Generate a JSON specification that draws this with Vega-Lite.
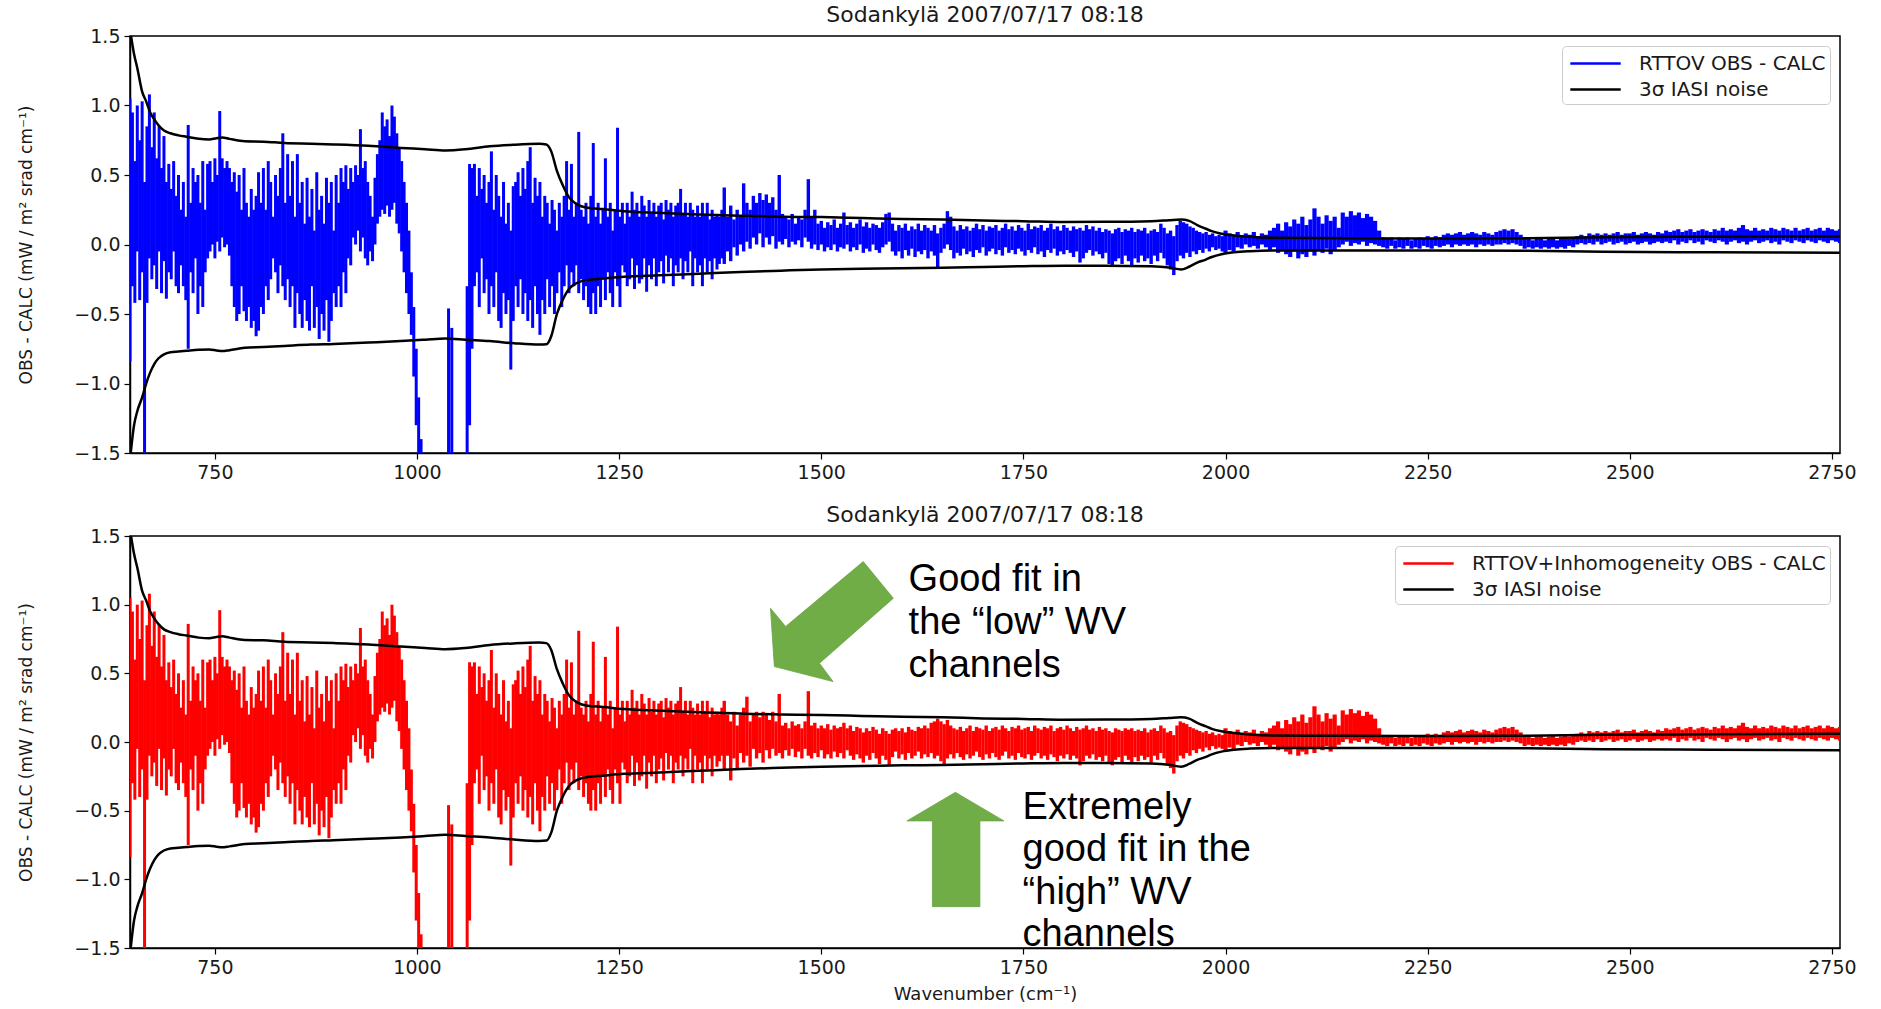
{
"$schema": "https://vega.github.io/schema/vega-lite/v6.json",
"background": "white",
"padding": {"left": 17, "top": 2, "right": 30, "bottom": 5},
"spacing": 19,
"config": {
 "font": "DejaVu Sans",
 "view": {"stroke": "#000000", "strokeWidth": 1.5},
 "axis": {"grid": false, "labelFont": "DejaVu Sans", "labelFontSize": 19, "labelColor": "#1a1a1a", "tickColor": "#000000", "domainColor": "#000000", "tickSize": 6, "tickWidth": 1.2, "domainWidth": 1.5, "labelPadding": 4, "titleFont": "DejaVu Sans", "titleFontWeight": "normal", "titleFontSize": 18, "titleColor": "#1a1a1a", "titlePadding": 8},
 "axisY": {"titleFontSize": 17, "titlePadding": 38},
 "title": {"font": "DejaVu Sans", "fontSize": 22, "fontWeight": "normal", "color": "#1a1a1a", "offset": 0.5, "anchor": "middle"},
 "legend": {"orient": "top-right", "offset": 10, "symbolType": "M-2.1,0L2.1,0", "symbolStrokeWidth": 2.5, "symbolSize": 576, "symbolOffset": 16, "labelFont": "DejaVu Sans", "labelFontSize": 20, "labelColor": "#1a1a1a", "labelLimit": 600, "labelOffset": 30, "strokeColor": "#cccccc", "fillColor": "#ffffff", "padding": 4, "cornerRadius": 4, "rowPadding": 2}
},
"datasets": {
 "A": [
{"w":645,"lo":-0.84,"hi":1.05},{"w":648,"lo":-0.3,"hi":0.95},{"w":651,"lo":-0.42,"hi":0.6},{"w":654,"lo":-0.05,"hi":1.0},{"w":657,"lo":-0.4,"hi":0.75},{"w":660,"lo":-0.2,"hi":1.03},{"w":663,"lo":-1.6,"hi":0.45},{"w":666,"lo":-0.42,"hi":0.85},
{"w":669,"lo":-0.1,"hi":1.08},{"w":672,"lo":-0.25,"hi":0.7},{"w":675,"lo":-0.15,"hi":0.95},{"w":678,"lo":-0.32,"hi":0.62},{"w":681,"lo":-0.05,"hi":0.85},{"w":684,"lo":-0.35,"hi":0.55},{"w":687,"lo":-0.12,"hi":0.78},{"w":690,"lo":-0.39,"hi":0.45},
{"w":693,"lo":-0.2,"hi":0.58},{"w":696,"lo":-0.25,"hi":0.4},{"w":699,"lo":-0.05,"hi":0.6},{"w":702,"lo":-0.3,"hi":0.35},{"w":705,"lo":-0.35,"hi":0.5},{"w":708,"lo":-0.15,"hi":0.25},{"w":711,"lo":-0.3,"hi":0.45},{"w":714,"lo":-0.4,"hi":0.2},
{"w":717,"lo":-0.75,"hi":0.86},{"w":720,"lo":-0.2,"hi":0.3},{"w":723,"lo":-0.35,"hi":0.55},{"w":726,"lo":-0.1,"hi":0.45},{"w":729,"lo":-0.5,"hi":0.5},{"w":732,"lo":-0.3,"hi":0.3},{"w":735,"lo":-0.45,"hi":0.6},{"w":738,"lo":-0.2,"hi":0.25},
{"w":741,"lo":-0.1,"hi":0.58},{"w":744,"lo":-0.05,"hi":0.6},{"w":747,"lo":0.0,"hi":0.45},{"w":750,"lo":-0.1,"hi":0.62},{"w":753,"lo":0.02,"hi":0.5},{"w":756,"lo":-0.05,"hi":0.96},{"w":759,"lo":0.05,"hi":0.62},{"w":762,"lo":-0.02,"hi":0.55},
{"w":765,"lo":0.0,"hi":0.6},{"w":768,"lo":-0.08,"hi":0.55},{"w":771,"lo":-0.3,"hi":0.45},{"w":774,"lo":-0.45,"hi":0.52},{"w":777,"lo":-0.55,"hi":0.38},{"w":780,"lo":-0.5,"hi":0.5},{"w":783,"lo":-0.3,"hi":0.25},{"w":786,"lo":-0.48,"hi":0.55},
{"w":789,"lo":-0.55,"hi":0.3},{"w":792,"lo":-0.45,"hi":0.2},{"w":795,"lo":-0.6,"hi":0.4},{"w":798,"lo":-0.55,"hi":0.25},{"w":801,"lo":-0.66,"hi":0.35},{"w":804,"lo":-0.62,"hi":0.52},{"w":807,"lo":-0.45,"hi":0.3},{"w":810,"lo":-0.5,"hi":0.55},
{"w":813,"lo":-0.3,"hi":0.25},{"w":816,"lo":-0.4,"hi":0.6},{"w":819,"lo":-0.25,"hi":0.45},{"w":822,"lo":-0.1,"hi":0.2},{"w":825,"lo":-0.2,"hi":0.5},{"w":828,"lo":-0.35,"hi":0.35},{"w":831,"lo":-0.15,"hi":0.55},{"w":834,"lo":-0.3,"hi":0.8},
{"w":837,"lo":-0.4,"hi":0.3},{"w":840,"lo":-0.25,"hi":0.65},{"w":843,"lo":-0.45,"hi":0.35},{"w":846,"lo":-0.3,"hi":0.6},{"w":849,"lo":-0.6,"hi":0.2},{"w":852,"lo":-0.35,"hi":0.65},{"w":855,"lo":-0.5,"hi":0.3},{"w":858,"lo":-0.6,"hi":0.45},
{"w":861,"lo":-0.4,"hi":0.15},{"w":864,"lo":-0.55,"hi":0.48},{"w":867,"lo":-0.62,"hi":0.2},{"w":870,"lo":-0.3,"hi":0.4},{"w":873,"lo":-0.6,"hi":0.1},{"w":876,"lo":-0.45,"hi":0.52},{"w":879,"lo":-0.68,"hi":0.25},{"w":882,"lo":-0.5,"hi":0.35},
{"w":885,"lo":-0.62,"hi":0.15},{"w":888,"lo":-0.4,"hi":0.48},{"w":891,"lo":-0.7,"hi":0.3},{"w":894,"lo":-0.55,"hi":0.45},{"w":897,"lo":-0.35,"hi":0.1},{"w":900,"lo":-0.45,"hi":0.5},{"w":903,"lo":-0.3,"hi":0.3},{"w":906,"lo":-0.45,"hi":0.55},
{"w":909,"lo":-0.2,"hi":0.45},{"w":912,"lo":-0.35,"hi":0.57},{"w":915,"lo":-0.1,"hi":0.4},{"w":918,"lo":-0.15,"hi":0.55},{"w":921,"lo":0.05,"hi":0.45},{"w":924,"lo":0.0,"hi":0.57},{"w":927,"lo":0.1,"hi":0.5},{"w":930,"lo":-0.05,"hi":0.83},
{"w":933,"lo":0.05,"hi":0.55},{"w":936,"lo":-0.1,"hi":0.6},{"w":939,"lo":-0.15,"hi":0.45},{"w":942,"lo":-0.05,"hi":0.35},{"w":945,"lo":-0.12,"hi":0.2},{"w":948,"lo":0.0,"hi":0.48},{"w":951,"lo":0.15,"hi":0.65},{"w":954,"lo":0.2,"hi":0.75},
{"w":957,"lo":0.25,"hi":0.95},{"w":960,"lo":0.22,"hi":0.85},{"w":963,"lo":0.28,"hi":0.9},{"w":966,"lo":0.2,"hi":0.78},{"w":969,"lo":0.25,"hi":1.0},{"w":972,"lo":0.3,"hi":0.92},{"w":975,"lo":0.15,"hi":0.8},{"w":978,"lo":0.08,"hi":0.7},
{"w":981,"lo":-0.05,"hi":0.6},{"w":984,"lo":-0.2,"hi":0.45},{"w":987,"lo":-0.35,"hi":0.3},{"w":990,"lo":-0.5,"hi":0.1},{"w":993,"lo":-0.65,"hi":-0.2},{"w":996,"lo":-0.95,"hi":-0.45},{"w":999,"lo":-1.3,"hi":-0.75},{"w":1002,"lo":-1.6,"hi":-1.1},
{"w":1005,"lo":-1.6,"hi":-1.4},{"w":1039,"lo":-1.6,"hi":-0.46},{"w":1043,"lo":-1.6,"hi":-0.6},{"w":1062,"lo":-1.6,"hi":-0.3},{"w":1065,"lo":-1.3,"hi":0.58},
{"w":1068,"lo":-0.75,"hi":0.55},{"w":1071,"lo":-0.3,"hi":0.58},{"w":1074,"lo":-0.2,"hi":0.35},{"w":1077,"lo":-0.45,"hi":0.55},{"w":1080,"lo":-0.1,"hi":0.4},{"w":1083,"lo":-0.35,"hi":0.5},{"w":1086,"lo":-0.25,"hi":0.3},{"w":1089,"lo":-0.5,"hi":0.45},
{"w":1092,"lo":-0.3,"hi":0.67},{"w":1095,"lo":-0.45,"hi":0.25},{"w":1098,"lo":-0.2,"hi":0.5},{"w":1101,"lo":-0.55,"hi":0.35},{"w":1104,"lo":-0.6,"hi":0.2},{"w":1107,"lo":-0.35,"hi":0.45},{"w":1110,"lo":-0.5,"hi":0.15},{"w":1113,"lo":-0.4,"hi":0.3},
{"w":1116,"lo":-0.9,"hi":0.1},{"w":1119,"lo":-0.55,"hi":0.42},{"w":1122,"lo":-0.3,"hi":0.45},{"w":1125,"lo":-0.45,"hi":0.52},{"w":1128,"lo":-0.25,"hi":0.35},{"w":1131,"lo":-0.5,"hi":0.55},{"w":1134,"lo":-0.35,"hi":0.4},{"w":1137,"lo":-0.55,"hi":0.6},
{"w":1140,"lo":-0.4,"hi":0.7},{"w":1143,"lo":-0.6,"hi":0.3},{"w":1146,"lo":-0.3,"hi":0.48},{"w":1149,"lo":-0.5,"hi":0.35},{"w":1152,"lo":-0.65,"hi":0.45},{"w":1155,"lo":-0.4,"hi":0.2},{"w":1158,"lo":-0.5,"hi":0.35},{"w":1161,"lo":-0.25,"hi":0.3},
{"w":1164,"lo":-0.45,"hi":0.15},{"w":1167,"lo":-0.3,"hi":0.32},{"w":1170,"lo":-0.5,"hi":0.25},{"w":1173,"lo":-0.35,"hi":0.1},{"w":1176,"lo":-0.2,"hi":0.3},{"w":1179,"lo":-0.45,"hi":0.2},{"w":1182,"lo":-0.3,"hi":0.35},{"w":1185,"lo":-0.15,"hi":0.6},
{"w":1188,"lo":-0.35,"hi":0.25},{"w":1191,"lo":-0.2,"hi":0.58},{"w":1194,"lo":-0.3,"hi":0.2},{"w":1197,"lo":-0.15,"hi":0.3},{"w":1200,"lo":-0.35,"hi":0.81},{"w":1203,"lo":-0.25,"hi":0.25},{"w":1206,"lo":-0.4,"hi":0.2},{"w":1209,"lo":-0.3,"hi":0.3},
{"w":1212,"lo":-0.45,"hi":0.15},{"w":1215,"lo":-0.5,"hi":0.35},{"w":1218,"lo":-0.35,"hi":0.73},{"w":1221,"lo":-0.5,"hi":0.2},{"w":1224,"lo":-0.3,"hi":0.3},{"w":1227,"lo":-0.45,"hi":0.15},{"w":1230,"lo":-0.25,"hi":0.25},{"w":1233,"lo":-0.4,"hi":0.62},
{"w":1236,"lo":-0.2,"hi":0.2},{"w":1239,"lo":-0.35,"hi":0.3},{"w":1242,"lo":-0.45,"hi":0.1},{"w":1245,"lo":-0.2,"hi":0.25},{"w":1248,"lo":-0.3,"hi":0.84},{"w":1251,"lo":-0.45,"hi":0.2},{"w":1254,"lo":-0.15,"hi":0.3},{"w":1257,"lo":-0.2,"hi":0.15},
{"w":1260,"lo":-0.3,"hi":0.3},{"w":1263,"lo":-0.25,"hi":0.2},{"w":1266,"lo":-0.1,"hi":0.38},{"w":1269,"lo":-0.32,"hi":0.25},{"w":1272,"lo":-0.15,"hi":0.3},{"w":1275,"lo":-0.28,"hi":0.2},{"w":1278,"lo":-0.25,"hi":0.35},{"w":1281,"lo":-0.1,"hi":0.28},
{"w":1284,"lo":-0.34,"hi":0.2},{"w":1287,"lo":-0.15,"hi":0.32},{"w":1290,"lo":-0.25,"hi":0.22},{"w":1293,"lo":-0.1,"hi":0.3},{"w":1296,"lo":-0.3,"hi":0.2},{"w":1299,"lo":-0.2,"hi":0.28},{"w":1302,"lo":-0.12,"hi":0.3},{"w":1305,"lo":-0.28,"hi":0.18},
{"w":1308,"lo":-0.08,"hi":0.32},{"w":1311,"lo":-0.2,"hi":0.25},{"w":1314,"lo":-0.1,"hi":0.3},{"w":1317,"lo":-0.3,"hi":0.2},{"w":1320,"lo":-0.15,"hi":0.28},{"w":1323,"lo":-0.2,"hi":0.3},{"w":1326,"lo":-0.1,"hi":0.4},{"w":1329,"lo":-0.25,"hi":0.22},
{"w":1332,"lo":-0.12,"hi":0.3},{"w":1335,"lo":-0.2,"hi":0.2},{"w":1338,"lo":-0.05,"hi":0.3},{"w":1341,"lo":-0.3,"hi":0.25},{"w":1344,"lo":-0.1,"hi":0.2},{"w":1347,"lo":-0.2,"hi":0.28},{"w":1350,"lo":-0.15,"hi":0.2},{"w":1353,"lo":-0.3,"hi":0.3},
{"w":1356,"lo":-0.1,"hi":0.22},{"w":1359,"lo":-0.2,"hi":0.3},{"w":1362,"lo":-0.12,"hi":0.18},{"w":1365,"lo":-0.25,"hi":0.25},{"w":1368,"lo":-0.1,"hi":0.2},{"w":1371,"lo":-0.18,"hi":0.22},{"w":1374,"lo":-0.14,"hi":0.2},{"w":1377,"lo":-0.1,"hi":0.25}
 ],
 "Bb": [
{"w":1380,"lo":-0.14,"hi":0.41},{"w":1384,"lo":-0.05,"hi":0.2},{"w":1388,"lo":-0.12,"hi":0.28},{"w":1392,"lo":-0.02,"hi":0.18},{"w":1396,"lo":-0.08,"hi":0.25},{"w":1400,"lo":0.0,"hi":0.2},{"w":1404,"lo":-0.05,"hi":0.44},{"w":1408,"lo":0.02,"hi":0.3},
{"w":1412,"lo":-0.03,"hi":0.25},{"w":1416,"lo":0.05,"hi":0.35},{"w":1420,"lo":0.0,"hi":0.3},{"w":1424,"lo":0.08,"hi":0.37},{"w":1428,"lo":-0.02,"hi":0.32},{"w":1432,"lo":0.05,"hi":0.36},{"w":1436,"lo":0.0,"hi":0.3},{"w":1440,"lo":0.06,"hi":0.34},
{"w":1444,"lo":-0.03,"hi":0.25},{"w":1448,"lo":0.02,"hi":0.5},{"w":1452,"lo":0.0,"hi":0.22},{"w":1456,"lo":0.04,"hi":0.2},{"w":1460,"lo":-0.02,"hi":0.18},{"w":1464,"lo":0.02,"hi":0.22},{"w":1468,"lo":0.0,"hi":0.15},{"w":1472,"lo":0.03,"hi":0.2},
{"w":1476,"lo":-0.02,"hi":0.18},{"w":1480,"lo":0.05,"hi":0.25},{"w":1484,"lo":0.02,"hi":0.47},{"w":1488,"lo":-0.03,"hi":0.2},{"w":1492,"lo":0.0,"hi":0.25},{"w":1496,"lo":-0.04,"hi":0.15},{"w":1500,"lo":0.0,"hi":0.17},{"w":1504,"lo":-0.05,"hi":0.12},
{"w":1508,"lo":-0.02,"hi":0.16},{"w":1512,"lo":-0.04,"hi":0.14},{"w":1516,"lo":0.0,"hi":0.18},{"w":1520,"lo":-0.05,"hi":0.12},{"w":1524,"lo":-0.02,"hi":0.15},{"w":1528,"lo":-0.03,"hi":0.23},{"w":1532,"lo":0.0,"hi":0.14},{"w":1536,"lo":-0.05,"hi":0.16},
{"w":1540,"lo":-0.02,"hi":0.12},{"w":1544,"lo":-0.04,"hi":0.15},{"w":1548,"lo":0.0,"hi":0.18},{"w":1552,"lo":-0.06,"hi":0.13},{"w":1556,"lo":-0.03,"hi":0.16},{"w":1560,"lo":-0.05,"hi":0.12},{"w":1564,"lo":0.0,"hi":0.15},{"w":1568,"lo":-0.04,"hi":0.14},
{"w":1572,"lo":-0.06,"hi":0.12},{"w":1576,"lo":-0.02,"hi":0.16},{"w":1580,"lo":0.0,"hi":0.22},{"w":1584,"lo":0.02,"hi":0.23},{"w":1588,"lo":-0.05,"hi":0.15},{"w":1592,"lo":-0.08,"hi":0.1},{"w":1596,"lo":-0.05,"hi":0.14},{"w":1600,"lo":-0.1,"hi":0.12},
{"w":1604,"lo":-0.04,"hi":0.15},{"w":1608,"lo":-0.08,"hi":0.1},{"w":1612,"lo":-0.03,"hi":0.13},{"w":1616,"lo":-0.09,"hi":0.11},{"w":1620,"lo":-0.05,"hi":0.15},{"w":1624,"lo":-0.07,"hi":0.1},{"w":1628,"lo":-0.04,"hi":0.14},{"w":1632,"lo":-0.1,"hi":0.12},
{"w":1636,"lo":-0.05,"hi":0.1},{"w":1640,"lo":-0.08,"hi":0.14},{"w":1644,"lo":-0.17,"hi":0.08},{"w":1648,"lo":-0.06,"hi":0.12},{"w":1652,"lo":-0.03,"hi":0.15},{"w":1656,"lo":0.0,"hi":0.24},{"w":1660,"lo":-0.04,"hi":0.2},{"w":1664,"lo":-0.1,"hi":0.13},
{"w":1668,"lo":-0.06,"hi":0.1},{"w":1672,"lo":-0.08,"hi":0.14},{"w":1676,"lo":-0.03,"hi":0.11},{"w":1680,"lo":-0.07,"hi":0.13},{"w":1684,"lo":-0.05,"hi":0.1},{"w":1688,"lo":-0.09,"hi":0.12},{"w":1692,"lo":-0.04,"hi":0.15},{"w":1696,"lo":-0.06,"hi":0.11},
{"w":1700,"lo":-0.02,"hi":0.14},{"w":1704,"lo":-0.08,"hi":0.1},{"w":1708,"lo":-0.05,"hi":0.13},{"w":1712,"lo":-0.03,"hi":0.12},{"w":1716,"lo":-0.07,"hi":0.14},{"w":1720,"lo":-0.04,"hi":0.1},{"w":1724,"lo":-0.08,"hi":0.12},{"w":1728,"lo":-0.02,"hi":0.15},
{"w":1732,"lo":-0.06,"hi":0.11},{"w":1736,"lo":-0.04,"hi":0.13},{"w":1740,"lo":-0.07,"hi":0.1},{"w":1744,"lo":-0.03,"hi":0.14},{"w":1748,"lo":-0.05,"hi":0.12},{"w":1752,"lo":-0.08,"hi":0.1},{"w":1756,"lo":-0.04,"hi":0.15},{"w":1760,"lo":-0.06,"hi":0.11},
{"w":1764,"lo":-0.02,"hi":0.13},{"w":1768,"lo":-0.07,"hi":0.12},{"w":1772,"lo":-0.05,"hi":0.14},{"w":1776,"lo":-0.09,"hi":0.1},{"w":1780,"lo":-0.04,"hi":0.12},{"w":1784,"lo":-0.06,"hi":0.15},{"w":1788,"lo":-0.03,"hi":0.11},{"w":1792,"lo":-0.08,"hi":0.13},
{"w":1796,"lo":-0.05,"hi":0.1},{"w":1800,"lo":-0.07,"hi":0.14},{"w":1804,"lo":-0.04,"hi":0.12},{"w":1808,"lo":-0.06,"hi":0.1},{"w":1812,"lo":-0.09,"hi":0.13},{"w":1816,"lo":-0.05,"hi":0.11},{"w":1820,"lo":-0.13,"hi":0.12},{"w":1824,"lo":-0.1,"hi":0.1},
{"w":1828,"lo":-0.06,"hi":0.14},{"w":1832,"lo":-0.04,"hi":0.11},{"w":1836,"lo":-0.08,"hi":0.13},{"w":1840,"lo":-0.05,"hi":0.1},{"w":1844,"lo":-0.07,"hi":0.12},{"w":1848,"lo":-0.1,"hi":0.09},{"w":1852,"lo":-0.06,"hi":0.11},{"w":1856,"lo":-0.14,"hi":0.1},
{"w":1860,"lo":-0.16,"hi":0.08},{"w":1864,"lo":-0.12,"hi":0.11},{"w":1868,"lo":-0.1,"hi":0.12},{"w":1872,"lo":-0.14,"hi":0.09},{"w":1876,"lo":-0.08,"hi":0.11},{"w":1880,"lo":-0.12,"hi":0.1},{"w":1884,"lo":-0.15,"hi":0.12},{"w":1888,"lo":-0.1,"hi":0.09},
{"w":1892,"lo":-0.13,"hi":0.11},{"w":1896,"lo":-0.08,"hi":0.1},{"w":1900,"lo":-0.12,"hi":0.12},{"w":1904,"lo":-0.1,"hi":0.08},{"w":1908,"lo":-0.14,"hi":0.1},{"w":1912,"lo":-0.08,"hi":0.11},{"w":1916,"lo":-0.12,"hi":0.09},{"w":1920,"lo":-0.06,"hi":0.15},
{"w":1924,"lo":-0.1,"hi":0.12},{"w":1928,"lo":-0.15,"hi":0.08},{"w":1932,"lo":-0.18,"hi":0.1},{"w":1936,"lo":-0.22,"hi":0.06},{"w":1940,"lo":-0.12,"hi":0.14},{"w":1944,"lo":-0.08,"hi":0.17},{"w":1948,"lo":-0.1,"hi":0.16},{"w":1952,"lo":-0.06,"hi":0.15},
{"w":1956,"lo":-0.09,"hi":0.13},{"w":1960,"lo":-0.05,"hi":0.12},{"w":1964,"lo":-0.07,"hi":0.1},{"w":1968,"lo":-0.04,"hi":0.09},{"w":1972,"lo":-0.06,"hi":0.08},{"w":1976,"lo":-0.03,"hi":0.09},{"w":1980,"lo":-0.05,"hi":0.07},{"w":1984,"lo":-0.02,"hi":0.08},
{"w":1988,"lo":-0.04,"hi":0.06},{"w":1992,"lo":-0.03,"hi":0.07},{"w":1996,"lo":-0.05,"hi":0.06}
 ],
 "Br": [
{"w":1380,"lo":-0.21,"hi":0.3},{"w":1384,"lo":-0.1,"hi":0.2},{"w":1388,"lo":-0.28,"hi":0.15},{"w":1392,"lo":-0.12,"hi":0.22},{"w":1396,"lo":-0.2,"hi":0.12},{"w":1400,"lo":-0.08,"hi":0.2},{"w":1404,"lo":-0.15,"hi":0.25},{"w":1408,"lo":-0.1,"hi":0.33},
{"w":1412,"lo":-0.18,"hi":0.15},{"w":1416,"lo":-0.05,"hi":0.2},{"w":1420,"lo":-0.12,"hi":0.22},{"w":1424,"lo":-0.08,"hi":0.18},{"w":1428,"lo":-0.15,"hi":0.22},{"w":1432,"lo":-0.06,"hi":0.2},{"w":1436,"lo":-0.12,"hi":0.16},{"w":1440,"lo":-0.05,"hi":0.22},
{"w":1444,"lo":-0.1,"hi":0.15},{"w":1448,"lo":-0.08,"hi":0.35},{"w":1452,"lo":-0.12,"hi":0.12},{"w":1456,"lo":-0.06,"hi":0.14},{"w":1460,"lo":-0.1,"hi":0.1},{"w":1464,"lo":-0.05,"hi":0.15},{"w":1468,"lo":-0.11,"hi":0.12},{"w":1472,"lo":-0.07,"hi":0.13},
{"w":1476,"lo":-0.12,"hi":0.1},{"w":1480,"lo":-0.05,"hi":0.15},{"w":1484,"lo":-0.1,"hi":0.37},{"w":1488,"lo":-0.12,"hi":0.12},{"w":1492,"lo":-0.08,"hi":0.14},{"w":1496,"lo":-0.11,"hi":0.1},{"w":1500,"lo":-0.06,"hi":0.12},{"w":1504,"lo":-0.12,"hi":0.1},
{"w":1508,"lo":-0.09,"hi":0.13},{"w":1512,"lo":-0.12,"hi":0.09},{"w":1516,"lo":-0.07,"hi":0.12},{"w":1520,"lo":-0.11,"hi":0.1},{"w":1524,"lo":-0.08,"hi":0.11},{"w":1528,"lo":-0.12,"hi":0.14},{"w":1532,"lo":-0.06,"hi":0.1},{"w":1536,"lo":-0.1,"hi":0.12},
{"w":1540,"lo":-0.13,"hi":0.08},{"w":1544,"lo":-0.09,"hi":0.11},{"w":1548,"lo":-0.12,"hi":0.1},{"w":1552,"lo":-0.15,"hi":0.07},{"w":1556,"lo":-0.1,"hi":0.1},{"w":1560,"lo":-0.13,"hi":0.08},{"w":1564,"lo":-0.08,"hi":0.11},{"w":1568,"lo":-0.12,"hi":0.09},
{"w":1572,"lo":-0.16,"hi":0.06},{"w":1576,"lo":-0.1,"hi":0.1},{"w":1580,"lo":-0.13,"hi":0.08},{"w":1584,"lo":-0.17,"hi":0.06},{"w":1588,"lo":-0.11,"hi":0.09},{"w":1592,"lo":-0.07,"hi":0.1},{"w":1596,"lo":-0.12,"hi":0.08},{"w":1600,"lo":-0.09,"hi":0.1},
{"w":1604,"lo":-0.13,"hi":0.07},{"w":1608,"lo":-0.08,"hi":0.11},{"w":1612,"lo":-0.12,"hi":0.09},{"w":1616,"lo":-0.1,"hi":0.08},{"w":1620,"lo":-0.07,"hi":0.11},{"w":1624,"lo":-0.12,"hi":0.1},{"w":1628,"lo":-0.09,"hi":0.12},{"w":1632,"lo":-0.11,"hi":0.1},
{"w":1636,"lo":-0.08,"hi":0.14},{"w":1640,"lo":-0.12,"hi":0.15},{"w":1644,"lo":-0.1,"hi":0.17},{"w":1648,"lo":-0.14,"hi":0.15},{"w":1652,"lo":-0.17,"hi":0.13},{"w":1656,"lo":-0.12,"hi":0.16},{"w":1660,"lo":-0.09,"hi":0.12},{"w":1664,"lo":-0.12,"hi":0.1},
{"w":1668,"lo":-0.08,"hi":0.09},{"w":1672,"lo":-0.11,"hi":0.11},{"w":1676,"lo":-0.13,"hi":0.08},{"w":1680,"lo":-0.09,"hi":0.1},{"w":1684,"lo":-0.12,"hi":0.12},{"w":1688,"lo":-0.1,"hi":0.08},{"w":1692,"lo":-0.07,"hi":0.11},{"w":1696,"lo":-0.11,"hi":0.1},
{"w":1700,"lo":-0.13,"hi":0.09},{"w":1704,"lo":-0.09,"hi":0.12},{"w":1708,"lo":-0.12,"hi":0.08},{"w":1712,"lo":-0.08,"hi":0.1},{"w":1716,"lo":-0.11,"hi":0.11},{"w":1720,"lo":-0.13,"hi":0.09},{"w":1724,"lo":-0.1,"hi":0.12},{"w":1728,"lo":-0.07,"hi":0.1},
{"w":1732,"lo":-0.12,"hi":0.08},{"w":1736,"lo":-0.1,"hi":0.11},{"w":1740,"lo":-0.13,"hi":0.1},{"w":1744,"lo":-0.08,"hi":0.12},{"w":1748,"lo":-0.11,"hi":0.09},{"w":1752,"lo":-0.12,"hi":0.1},{"w":1756,"lo":-0.09,"hi":0.11},{"w":1760,"lo":-0.13,"hi":0.08},
{"w":1764,"lo":-0.1,"hi":0.12},{"w":1768,"lo":-0.08,"hi":0.1},{"w":1772,"lo":-0.12,"hi":0.09},{"w":1776,"lo":-0.1,"hi":0.11},{"w":1780,"lo":-0.13,"hi":0.1},{"w":1784,"lo":-0.09,"hi":0.12},{"w":1788,"lo":-0.11,"hi":0.08},{"w":1792,"lo":-0.14,"hi":0.1},
{"w":1796,"lo":-0.1,"hi":0.11},{"w":1800,"lo":-0.12,"hi":0.09},{"w":1804,"lo":-0.09,"hi":0.12},{"w":1808,"lo":-0.13,"hi":0.1},{"w":1812,"lo":-0.1,"hi":0.08},{"w":1816,"lo":-0.12,"hi":0.11},{"w":1820,"lo":-0.17,"hi":0.09},{"w":1824,"lo":-0.14,"hi":0.1},
{"w":1828,"lo":-0.1,"hi":0.12},{"w":1832,"lo":-0.12,"hi":0.09},{"w":1836,"lo":-0.09,"hi":0.1},{"w":1840,"lo":-0.13,"hi":0.08},{"w":1844,"lo":-0.11,"hi":0.11},{"w":1848,"lo":-0.14,"hi":0.09},{"w":1852,"lo":-0.1,"hi":0.1},{"w":1856,"lo":-0.15,"hi":0.08},
{"w":1860,"lo":-0.17,"hi":0.07},{"w":1864,"lo":-0.13,"hi":0.1},{"w":1868,"lo":-0.11,"hi":0.09},{"w":1872,"lo":-0.15,"hi":0.08},{"w":1876,"lo":-0.1,"hi":0.1},{"w":1880,"lo":-0.13,"hi":0.09},{"w":1884,"lo":-0.16,"hi":0.1},{"w":1888,"lo":-0.11,"hi":0.08},
{"w":1892,"lo":-0.14,"hi":0.09},{"w":1896,"lo":-0.1,"hi":0.08},{"w":1900,"lo":-0.13,"hi":0.1},{"w":1904,"lo":-0.11,"hi":0.07},{"w":1908,"lo":-0.15,"hi":0.09},{"w":1912,"lo":-0.1,"hi":0.1},{"w":1916,"lo":-0.13,"hi":0.08},{"w":1920,"lo":-0.08,"hi":0.12},
{"w":1924,"lo":-0.12,"hi":0.1},{"w":1928,"lo":-0.16,"hi":0.07},{"w":1932,"lo":-0.19,"hi":0.08},{"w":1936,"lo":-0.23,"hi":0.05},{"w":1940,"lo":-0.14,"hi":0.12},{"w":1944,"lo":-0.1,"hi":0.15},{"w":1948,"lo":-0.12,"hi":0.14},{"w":1952,"lo":-0.08,"hi":0.13},
{"w":1956,"lo":-0.1,"hi":0.11},{"w":1960,"lo":-0.06,"hi":0.1},{"w":1964,"lo":-0.08,"hi":0.09},{"w":1968,"lo":-0.05,"hi":0.08},{"w":1972,"lo":-0.07,"hi":0.07},{"w":1976,"lo":-0.04,"hi":0.08},{"w":1980,"lo":-0.06,"hi":0.06},{"w":1984,"lo":-0.03,"hi":0.07},
{"w":1988,"lo":-0.05,"hi":0.05},{"w":1992,"lo":-0.04,"hi":0.06},{"w":1996,"lo":-0.05,"hi":0.05}
 ],
 "C": [
{"w":2000,"lo":-0.06,"hi":0.1},{"w":2005,"lo":-0.04,"hi":0.08},{"w":2010,"lo":-0.05,"hi":0.07},{"w":2015,"lo":-0.02,"hi":0.09},{"w":2020,"lo":-0.03,"hi":0.06},{"w":2025,"lo":0.0,"hi":0.08},{"w":2030,"lo":-0.02,"hi":0.07},{"w":2035,"lo":-0.01,"hi":0.09},
{"w":2040,"lo":-0.03,"hi":0.06},{"w":2045,"lo":0.0,"hi":0.08},{"w":2050,"lo":-0.02,"hi":0.07},{"w":2055,"lo":-0.04,"hi":0.1},{"w":2060,"lo":-0.02,"hi":0.12},{"w":2065,"lo":-0.06,"hi":0.15},{"w":2070,"lo":-0.04,"hi":0.1},{"w":2075,"lo":-0.07,"hi":0.16},
{"w":2080,"lo":-0.09,"hi":0.13},{"w":2085,"lo":-0.05,"hi":0.18},{"w":2090,"lo":-0.1,"hi":0.15},{"w":2095,"lo":-0.07,"hi":0.2},{"w":2100,"lo":-0.09,"hi":0.14},{"w":2105,"lo":-0.05,"hi":0.18},{"w":2110,"lo":-0.08,"hi":0.26},{"w":2115,"lo":-0.04,"hi":0.2},
{"w":2120,"lo":-0.06,"hi":0.15},{"w":2125,"lo":-0.03,"hi":0.21},{"w":2130,"lo":-0.07,"hi":0.17},{"w":2135,"lo":-0.04,"hi":0.2},{"w":2140,"lo":-0.02,"hi":0.12},{"w":2145,"lo":0.0,"hi":0.23},{"w":2150,"lo":0.02,"hi":0.2},{"w":2155,"lo":-0.01,"hi":0.24},
{"w":2160,"lo":0.01,"hi":0.21},{"w":2165,"lo":0.0,"hi":0.23},{"w":2170,"lo":0.02,"hi":0.19},{"w":2175,"lo":-0.01,"hi":0.22},{"w":2180,"lo":0.01,"hi":0.2},{"w":2185,"lo":0.0,"hi":0.17},{"w":2190,"lo":-0.01,"hi":0.1},{"w":2195,"lo":-0.02,"hi":0.05},
{"w":2200,"lo":-0.03,"hi":0.04},{"w":2205,"lo":-0.01,"hi":0.05},{"w":2210,"lo":-0.03,"hi":0.03},{"w":2215,"lo":-0.02,"hi":0.05},{"w":2220,"lo":-0.03,"hi":0.04},{"w":2225,"lo":-0.01,"hi":0.05},{"w":2230,"lo":-0.03,"hi":0.03},{"w":2235,"lo":-0.02,"hi":0.04},
{"w":2240,"lo":-0.03,"hi":0.05},{"w":2245,"lo":-0.01,"hi":0.04},{"w":2250,"lo":-0.02,"hi":0.06},{"w":2255,"lo":-0.03,"hi":0.04},{"w":2260,"lo":-0.01,"hi":0.06},{"w":2265,"lo":-0.02,"hi":0.05},{"w":2270,"lo":-0.01,"hi":0.07},{"w":2275,"lo":0.0,"hi":0.08},
{"w":2280,"lo":-0.02,"hi":0.07},{"w":2285,"lo":0.0,"hi":0.08},{"w":2290,"lo":-0.01,"hi":0.09},{"w":2295,"lo":0.0,"hi":0.07},{"w":2300,"lo":-0.01,"hi":0.08},{"w":2305,"lo":0.0,"hi":0.09},{"w":2310,"lo":-0.02,"hi":0.08},{"w":2315,"lo":0.0,"hi":0.07},
{"w":2320,"lo":-0.01,"hi":0.09},{"w":2325,"lo":0.0,"hi":0.08},{"w":2330,"lo":-0.01,"hi":0.07},{"w":2335,"lo":0.0,"hi":0.09},{"w":2340,"lo":0.0,"hi":0.1},{"w":2345,"lo":0.01,"hi":0.11},{"w":2350,"lo":0.0,"hi":0.1},{"w":2355,"lo":0.01,"hi":0.11},
{"w":2360,"lo":0.0,"hi":0.09},{"w":2365,"lo":-0.01,"hi":0.07},{"w":2370,"lo":-0.03,"hi":0.04},{"w":2375,"lo":-0.02,"hi":0.05},{"w":2380,"lo":-0.03,"hi":0.03},{"w":2385,"lo":-0.02,"hi":0.04},{"w":2390,"lo":-0.03,"hi":0.05},{"w":2395,"lo":-0.02,"hi":0.03},
{"w":2400,"lo":-0.03,"hi":0.04},{"w":2405,"lo":-0.02,"hi":0.05},{"w":2410,"lo":-0.03,"hi":0.03},{"w":2415,"lo":-0.02,"hi":0.04},{"w":2420,"lo":-0.03,"hi":0.05},{"w":2425,"lo":-0.01,"hi":0.04},{"w":2430,"lo":-0.02,"hi":0.05},{"w":2435,"lo":0.0,"hi":0.06},
{"w":2440,"lo":0.01,"hi":0.07},{"w":2445,"lo":0.0,"hi":0.06},{"w":2450,"lo":0.01,"hi":0.08},{"w":2455,"lo":0.0,"hi":0.07},{"w":2460,"lo":0.02,"hi":0.08},{"w":2465,"lo":0.0,"hi":0.07},{"w":2470,"lo":0.01,"hi":0.08},{"w":2475,"lo":0.02,"hi":0.07},
{"w":2480,"lo":0.0,"hi":0.08},{"w":2485,"lo":0.01,"hi":0.09},{"w":2490,"lo":0.02,"hi":0.07},{"w":2495,"lo":0.0,"hi":0.08},{"w":2500,"lo":0.01,"hi":0.08},{"w":2505,"lo":0.02,"hi":0.09},{"w":2510,"lo":0.0,"hi":0.07},{"w":2515,"lo":0.01,"hi":0.08},
{"w":2520,"lo":0.02,"hi":0.09},{"w":2525,"lo":0.0,"hi":0.08},{"w":2530,"lo":0.01,"hi":0.07},{"w":2535,"lo":0.02,"hi":0.09},{"w":2540,"lo":0.01,"hi":0.08},{"w":2545,"lo":0.02,"hi":0.1},{"w":2550,"lo":0.01,"hi":0.09},{"w":2555,"lo":0.03,"hi":0.1},
{"w":2560,"lo":0.0,"hi":0.11},{"w":2565,"lo":0.02,"hi":0.09},{"w":2570,"lo":0.01,"hi":0.1},{"w":2575,"lo":0.03,"hi":0.11},{"w":2580,"lo":0.01,"hi":0.09},{"w":2585,"lo":0.02,"hi":0.1},{"w":2590,"lo":0.0,"hi":0.11},{"w":2595,"lo":0.03,"hi":0.1},
{"w":2600,"lo":0.02,"hi":0.09},{"w":2605,"lo":0.01,"hi":0.11},{"w":2610,"lo":0.03,"hi":0.1},{"w":2615,"lo":0.02,"hi":0.12},{"w":2620,"lo":0.0,"hi":0.1},{"w":2625,"lo":0.02,"hi":0.11},{"w":2630,"lo":0.03,"hi":0.1},{"w":2635,"lo":0.01,"hi":0.12},
{"w":2640,"lo":0.02,"hi":0.14},{"w":2645,"lo":0.0,"hi":0.11},{"w":2650,"lo":0.02,"hi":0.1},{"w":2655,"lo":0.03,"hi":0.12},{"w":2660,"lo":0.01,"hi":0.1},{"w":2665,"lo":0.02,"hi":0.11},{"w":2670,"lo":0.03,"hi":0.1},{"w":2675,"lo":0.01,"hi":0.12},
{"w":2680,"lo":0.02,"hi":0.11},{"w":2685,"lo":0.0,"hi":0.1},{"w":2690,"lo":0.03,"hi":0.12},{"w":2695,"lo":0.02,"hi":0.11},{"w":2700,"lo":0.01,"hi":0.1},{"w":2705,"lo":0.03,"hi":0.12},{"w":2710,"lo":0.02,"hi":0.1},{"w":2715,"lo":0.01,"hi":0.11},
{"w":2720,"lo":0.03,"hi":0.12},{"w":2725,"lo":0.02,"hi":0.1},{"w":2730,"lo":0.01,"hi":0.11},{"w":2735,"lo":0.03,"hi":0.12},{"w":2740,"lo":0.02,"hi":0.1},{"w":2745,"lo":0.01,"hi":0.12},{"w":2750,"lo":0.03,"hi":0.11},{"w":2755,"lo":0.02,"hi":0.1},
{"w":2760,"lo":0.01,"hi":0.11}
 ],
 "N": [
{"w":645,"up":1.55,"dn":-1.55},{"w":650,"up":1.37,"dn":-1.3},{"w":654,"up":1.27,"dn":-1.2},{"w":660,"up":1.1,"dn":-1.1},{"w":665,"up":1.03,"dn":-1.0},{"w":670,"up":0.95,"dn":-0.92},{"w":675,"up":0.9,"dn":-0.86},{"w":680,"up":0.86,"dn":-0.82},
{"w":687,"up":0.82,"dn":-0.79},{"w":695,"up":0.8,"dn":-0.775},{"w":705,"up":0.785,"dn":-0.77},{"w":715,"up":0.775,"dn":-0.765},{"w":730,"up":0.76,"dn":-0.758},{"w":743,"up":0.755,"dn":-0.755},{"w":752,"up":0.765,"dn":-0.762},{"w":759,"up":0.77,"dn":-0.767},
{"w":768,"up":0.76,"dn":-0.76},{"w":787,"up":0.743,"dn":-0.743},{"w":810,"up":0.74,"dn":-0.738},{"w":836,"up":0.73,"dn":-0.73},{"w":869,"up":0.725,"dn":-0.72},{"w":897,"up":0.72,"dn":-0.715},{"w":940,"up":0.71,"dn":-0.705},{"w":980,"up":0.695,"dn":-0.695},
{"w":1010,"up":0.685,"dn":-0.685},{"w":1035,"up":0.676,"dn":-0.676},{"w":1060,"up":0.685,"dn":-0.685},{"w":1090,"up":0.707,"dn":-0.695},{"w":1120,"up":0.718,"dn":-0.71},{"w":1151,"up":0.724,"dn":-0.72},{"w":1160,"up":0.72,"dn":-0.718},{"w":1166,"up":0.67,"dn":-0.66},
{"w":1173,"up":0.53,"dn":-0.5},{"w":1180,"up":0.43,"dn":-0.4},{"w":1188,"up":0.34,"dn":-0.32},{"w":1195,"up":0.3,"dn":-0.285},{"w":1203,"up":0.275,"dn":-0.265},{"w":1211,"up":0.264,"dn":-0.255},{"w":1230,"up":0.255,"dn":-0.245},{"w":1256,"up":0.24,"dn":-0.232},
{"w":1300,"up":0.228,"dn":-0.222},{"w":1349,"up":0.216,"dn":-0.21},{"w":1400,"up":0.207,"dn":-0.197},{"w":1450,"up":0.2,"dn":-0.188},{"w":1500,"up":0.197,"dn":-0.18},{"w":1550,"up":0.19,"dn":-0.175},{"w":1600,"up":0.183,"dn":-0.17},{"w":1650,"up":0.18,"dn":-0.168},
{"w":1700,"up":0.172,"dn":-0.162},{"w":1750,"up":0.168,"dn":-0.156},{"w":1800,"up":0.162,"dn":-0.152},{"w":1850,"up":0.163,"dn":-0.152},{"w":1908,"up":0.168,"dn":-0.156},{"w":1930,"up":0.175,"dn":-0.165},{"w":1945,"up":0.18,"dn":-0.18},{"w":1955,"up":0.17,"dn":-0.16},
{"w":1965,"up":0.14,"dn":-0.13},{"w":1975,"up":0.115,"dn":-0.11},{"w":1983,"up":0.096,"dn":-0.09},{"w":1995,"up":0.078,"dn":-0.07},{"w":2011,"up":0.065,"dn":-0.056},{"w":2030,"up":0.055,"dn":-0.048},{"w":2058,"up":0.048,"dn":-0.043},{"w":2150,"up":0.045,"dn":-0.043},
{"w":2253,"up":0.043,"dn":-0.043},{"w":2374,"up":0.045,"dn":-0.045},{"w":2467,"up":0.053,"dn":-0.052},{"w":2600,"up":0.056,"dn":-0.056},{"w":2760,"up":0.06,"dn":-0.06}
 ],
 "ann": [
{"w":1608,"y":1.183,"t":"Good fit in"},{"w":1608,"y":0.87,"t":"the “low” WV"},{"w":1608,"y":0.55,"t":"channels"},
{"w":1749,"y":-0.477,"t":"Extremely"},{"w":1749,"y":-0.783,"t":"good fit in the"},{"w":1749,"y":-1.096,"t":"“high” WV"},{"w":1749,"y":-1.402,"t":"channels"}
 ],
 "arr": [
{"w":1513.3,"y":0.877,"k":"diag"},{"w":1665.9,"y":-0.783,"k":"up"}
 ]
},
"resolve": {"scale": {"color": "independent", "shape": "independent"}, "legend": {"color": "independent"}},
"vconcat": [
{
 "width": 1710, "height": 417,
 "title": "Sodankylä 2007/07/17 08:18",
 "layer": [
  {"data": {"name": "A"}, "mark": {"type": "rule", "strokeWidth": 3, "clip": true},
   "encoding": {
    "x": {"field": "w", "type": "quantitative", "scale": {"domain": [645, 2760], "nice": false, "zero": false}, "axis": {"values": [750,1000,1250,1500,1750,2000,2250,2500,2750], "format": "d", "title": null}},
    "y": {"field": "lo", "type": "quantitative", "scale": {"domain": [-1.5, 1.5], "nice": false}, "axis": {"values": [-1.5,-1,-0.5,0,0.5,1,1.5], "format": ".1f", "title": "OBS - CALC (mW / m² srad cm⁻¹)"}},
    "y2": {"field": "hi"},
    "color": {"datum": "RTTOV OBS - CALC", "scale": {"domain": ["RTTOV OBS - CALC", "3σ IASI noise"], "range": ["#0000ff", "#000000"]}, "legend": {"title": null}}
   }},
  {"data": {"name": "Bb"}, "mark": {"type": "rule", "strokeWidth": 3.4, "clip": true},
   "encoding": {
    "x": {"field": "w", "type": "quantitative"},
    "y": {"field": "lo", "type": "quantitative"},
    "y2": {"field": "hi"},
    "color": {"datum": "RTTOV OBS - CALC"}
   }},
  {"data": {"name": "C"}, "mark": {"type": "rule", "strokeWidth": 4.2, "clip": true},
   "encoding": {
    "x": {"field": "w", "type": "quantitative"},
    "y": {"field": "lo", "type": "quantitative"},
    "y2": {"field": "hi"},
    "color": {"datum": "RTTOV OBS - CALC"}
   }},
  {"mark": {"type": "rule", "color": "#808080", "strokeWidth": 2}, "encoding": {"y": {"datum": 0}}},
  {"data": {"name": "N"}, "mark": {"type": "line", "strokeWidth": 2.5, "clip": true, "interpolate": "monotone"},
   "encoding": {
    "x": {"field": "w", "type": "quantitative"},
    "y": {"field": "up", "type": "quantitative"},
    "color": {"datum": "3σ IASI noise"}
   }},
  {"data": {"name": "N"}, "mark": {"type": "line", "strokeWidth": 2.5, "clip": true, "interpolate": "monotone"},
   "encoding": {
    "x": {"field": "w", "type": "quantitative"},
    "y": {"field": "dn", "type": "quantitative"},
    "color": {"datum": "3σ IASI noise"}
   }}
 ]
},
{
 "width": 1710, "height": 412,
 "title": "Sodankylä 2007/07/17 08:18",
 "layer": [
  {"data": {"name": "A"}, "mark": {"type": "rule", "strokeWidth": 3, "clip": true},
   "encoding": {
    "x": {"field": "w", "type": "quantitative", "scale": {"domain": [645, 2760], "nice": false, "zero": false}, "axis": {"values": [750,1000,1250,1500,1750,2000,2250,2500,2750], "format": "d", "title": "Wavenumber (cm⁻¹)"}},
    "y": {"field": "lo", "type": "quantitative", "scale": {"domain": [-1.5, 1.5], "nice": false}, "axis": {"values": [-1.5,-1,-0.5,0,0.5,1,1.5], "format": ".1f", "title": "OBS - CALC (mW / m² srad cm⁻¹)"}},
    "y2": {"field": "hi"},
    "color": {"datum": "RTTOV+Inhomogeneity OBS - CALC", "scale": {"domain": ["RTTOV+Inhomogeneity OBS - CALC", "3σ IASI noise"], "range": ["#ff0000", "#000000"]}, "legend": {"title": null}}
   }},
  {"data": {"name": "Br"}, "mark": {"type": "rule", "strokeWidth": 3.4, "clip": true},
   "encoding": {
    "x": {"field": "w", "type": "quantitative"},
    "y": {"field": "lo", "type": "quantitative"},
    "y2": {"field": "hi"},
    "color": {"datum": "RTTOV+Inhomogeneity OBS - CALC"}
   }},
  {"data": {"name": "C"}, "mark": {"type": "rule", "strokeWidth": 4.2, "clip": true},
   "encoding": {
    "x": {"field": "w", "type": "quantitative"},
    "y": {"field": "lo", "type": "quantitative"},
    "y2": {"field": "hi"},
    "color": {"datum": "RTTOV+Inhomogeneity OBS - CALC"}
   }},
  {"mark": {"type": "rule", "color": "#808080", "strokeWidth": 2}, "encoding": {"y": {"datum": 0}}},
  {"data": {"name": "N"}, "mark": {"type": "line", "strokeWidth": 2.5, "clip": true, "interpolate": "monotone"},
   "encoding": {
    "x": {"field": "w", "type": "quantitative"},
    "y": {"field": "up", "type": "quantitative"},
    "color": {"datum": "3σ IASI noise"}
   }},
  {"data": {"name": "N"}, "mark": {"type": "line", "strokeWidth": 2.5, "clip": true, "interpolate": "monotone"},
   "encoding": {
    "x": {"field": "w", "type": "quantitative"},
    "y": {"field": "dn", "type": "quantitative"},
    "color": {"datum": "3σ IASI noise"}
   }},
  {"data": {"name": "arr"}, "mark": {"type": "point", "filled": true, "size": 19600, "opacity": 1, "color": "#70AD47", "stroke": "#6aa443", "strokeWidth": 0.8},
   "encoding": {
    "x": {"field": "w", "type": "quantitative"},
    "y": {"field": "y", "type": "quantitative"},
    "shape": {"field": "k", "type": "nominal", "scale": {"domain": ["diag", "up"], "range": ["M-0.824,0.643 L-0.879,-0.19 L-0.663,0.071 L0.446,-0.857 L0.876,-0.333 L-0.179,0.596 L0.014,0.857 Z", "M0,-0.817 L0.694,-0.409 L0.35,-0.409 L0.35,0.816 L-0.329,0.816 L-0.329,-0.409 L-0.694,-0.409 Z"]}, "legend": null}
   }},
  {"data": {"name": "ann"}, "mark": {"type": "text", "align": "left", "baseline": "middle", "font": "Liberation Sans", "fontSize": 38, "color": "#000000"},
   "encoding": {
    "x": {"field": "w", "type": "quantitative"},
    "y": {"field": "y", "type": "quantitative"},
    "text": {"field": "t"}
   }}
 ]
}
]
}
